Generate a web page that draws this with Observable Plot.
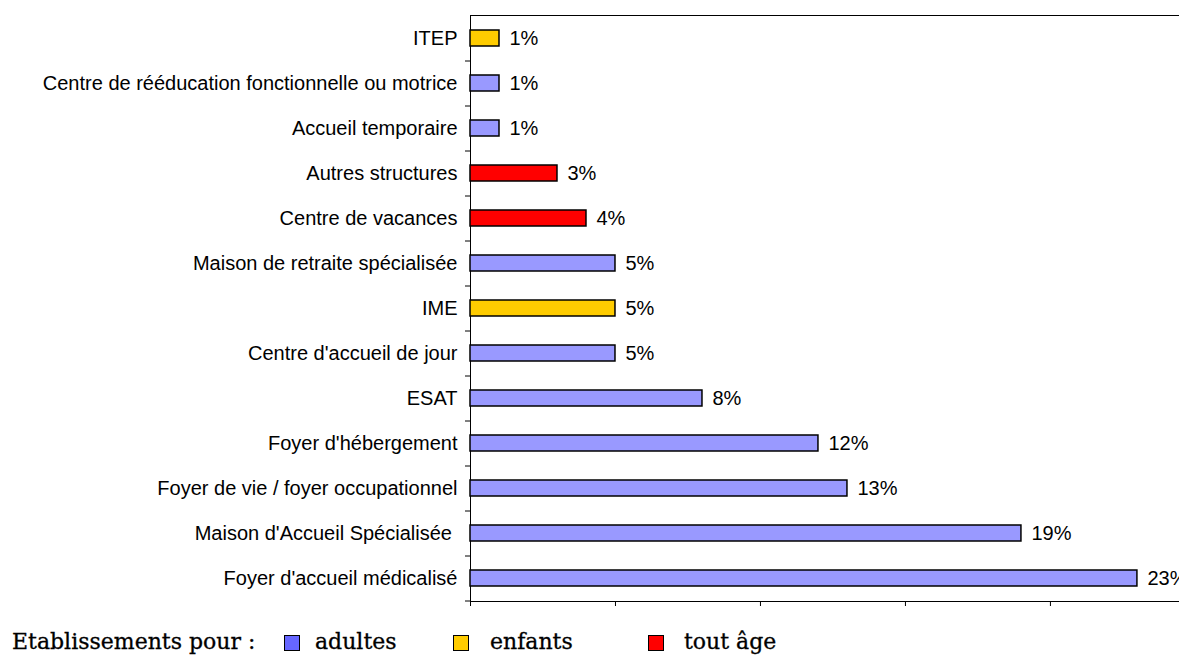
<!DOCTYPE html>
<html>
<head>
<meta charset="utf-8">
<script src="https://cdn.jsdelivr.net/npm/d3@7"></script>
<script src="https://cdn.jsdelivr.net/npm/@observablehq/plot@0.6"></script>
<style>
  html, body { margin: 0; padding: 0; background: #fff; overflow: hidden; }
  #legend { position: relative; width: 1179px; height: 40px; font-family: "DejaVu Serif", serif; font-size: 22px; color: #000; }
  #legend span.t { position: absolute; top: 13px; line-height: 28px; white-space: pre; -webkit-text-stroke: 0.3px #000; }
  #legend span.sw { position: absolute; top: 20px; width: 14px; height: 14px; border: 1.5px solid #000; }
</style>
</head>
<body>
<div id="chart"></div>
<div id="legend"></div>
<script>
const categories = [
  "ITEP",
  "Centre de rééducation fonctionnelle ou motrice",
  "Accueil temporaire",
  "Autres structures",
  "Centre de vacances",
  "Maison de retraite spécialisée",
  "IME",
  "Centre d'accueil de jour",
  "ESAT",
  "Foyer d'hébergement",
  "Foyer de vie / foyer occupationnel",
  "Maison d'Accueil Spécialisée ",
  "Foyer d'accueil médicalisé"
];
const values = [1, 1, 1, 3, 4, 5, 5, 5, 8, 12, 13, 19, 23];
const groups = ["enfants", "adultes", "adultes", "tout âge", "tout âge", "adultes", "enfants", "adultes", "adultes", "adultes", "adultes", "adultes", "adultes"];
const groupNames = ["adultes", "enfants", "tout âge"];
const barColors = ["#9999FF", "#FFCC00", "#FF0000"];
const legendColors = ["#6666FF", "#FFCC00", "#FF0000"];
const xTicks = [0, 5, 10, 15, 20];

const data = categories.map((c, i) => ({cat: c, value: values[i], group: groups[i]}));

const plot = Plot.plot({
  width: 1179,
  height: 615,
  marginLeft: 470,
  marginRight: -2,
  marginTop: 15,
  marginBottom: 14,
  style: {fontFamily: "'Liberation Sans', Arial, sans-serif", fontSize: "20px", color: "#000", background: "#fff"},
  x: {domain: [0, 24.52], axis: null},
  y: {domain: categories, paddingInner: 0.64, paddingOuter: 0.32, axis: null},
  color: {domain: groupNames, range: barColors},
  marks: [
    Plot.frame({stroke: "#000", strokeWidth: 1}),
    Plot.axisX({ticks: xTicks, tickSize: 5, tickFormat: () => "", stroke: "#000", label: null}),
    Plot.axisY({tickSize: 0, tickPadding: 13, fontSize: 20, fill: "#000", label: null}),
    Plot.axisY({tickSize: 5, tickFormat: () => "", stroke: "#000", label: null, className: "ytick"}),
    Plot.barX(data, {y: "cat", x: "value", fill: "group", stroke: "#000", strokeWidth: 1.5}),
    Plot.text(data, {y: "cat", x: "value", text: d => d.value + "%", textAnchor: "start", dx: 10, fontSize: 20, fill: "#000"})
  ]
});
document.getElementById("chart").appendChild(plot);

// shift the y tick marks to the band boundaries (category-axis style ticks)
const step = plot.scale("y").step;
d3.select(plot).selectAll(".ytick path, .ytick line").attr("transform", function() {
  const t = d3.select(this).attr("transform") || "";
  return t + ` translate(0,${step / 2})`;
});

// legend
const legend = document.getElementById("legend");
const items = [
  {kind: "t", text: "Etablissements pour :", left: 12},
  {kind: "sw", color: legendColors[0], left: 284},
  {kind: "t", text: groupNames[0], left: 315},
  {kind: "sw", color: legendColors[1], left: 453},
  {kind: "t", text: groupNames[1], left: 490},
  {kind: "sw", color: legendColors[2], left: 648},
  {kind: "t", text: groupNames[2], left: 684}
];
for (const it of items) {
  const s = document.createElement("span");
  s.className = it.kind;
  s.style.left = it.left + "px";
  if (it.kind === "t") s.textContent = it.text; else s.style.background = it.color;
  legend.appendChild(s);
}
</script>
</body>
</html>
